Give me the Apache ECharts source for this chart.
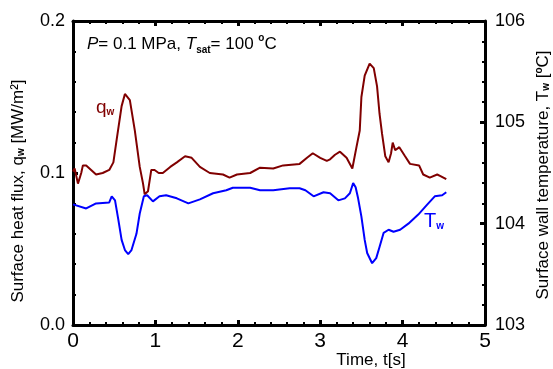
<!DOCTYPE html>
<html>
<head>
<meta charset="utf-8">
<script src="https://cdn.jsdelivr.net/npm/echarts@6/dist/echarts.min.js"></script>
<style>
  html, body { margin: 0; padding: 0; background: #fff; }
  #chart { width: 553px; height: 369px; }
</style>
</head>
<body>
<div id="chart"></div>
<script>
// surface heat flux q_w [MW/m2] vs time [s]
const qTime = [0.00, 0.02, 0.06, 0.10, 0.12, 0.16, 0.22, 0.28, 0.36, 0.44, 0.49, 0.53, 0.59, 0.63, 0.65, 0.69,
  0.75, 0.81, 0.85, 0.87, 0.91, 0.95, 0.99, 1.04, 1.09, 1.18, 1.26, 1.36, 1.44, 1.54, 1.66, 1.82, 1.90, 1.99,
  2.15, 2.27, 2.43, 2.55, 2.75, 2.84, 2.91, 3.00, 3.08, 3.12, 3.18, 3.24, 3.32, 3.39, 3.44, 3.48, 3.50, 3.54,
  3.60, 3.65, 3.69, 3.72, 3.75, 3.79, 3.83, 3.86, 3.88, 3.91, 3.96, 4.03, 4.09, 4.20, 4.25, 4.33, 4.42, 4.46, 4.53];
const qFlux = [0.101, 0.103, 0.093, 0.100, 0.105, 0.105, 0.102, 0.099, 0.100, 0.102, 0.107, 0.122, 0.144, 0.152, 0.153, 0.148,
  0.128, 0.104, 0.093, 0.086, 0.088, 0.102, 0.102, 0.100, 0.100, 0.104, 0.107, 0.111, 0.110, 0.104, 0.100, 0.099, 0.097, 0.099,
  0.100, 0.1035, 0.103, 0.105, 0.106, 0.110, 0.113, 0.110, 0.108, 0.109, 0.112, 0.114, 0.110, 0.103, 0.117, 0.128, 0.150, 0.164,
  0.172, 0.169, 0.157, 0.139, 0.126, 0.111, 0.107, 0.113, 0.120, 0.115, 0.117, 0.111, 0.106, 0.105, 0.099, 0.097, 0.099, 0.098, 0.096];

// surface wall temperature T_w [C] vs time [s]
const tTime = [0.00, 0.02, 0.16, 0.28, 0.44, 0.47, 0.51, 0.55, 0.59, 0.63, 0.67, 0.71, 0.77, 0.81, 0.86, 0.90, 0.97,
  1.05, 1.13, 1.26, 1.40, 1.54, 1.70, 1.86, 1.94, 2.15, 2.27, 2.43, 2.63, 2.75, 2.82, 2.92, 3.04, 3.12, 3.22,
  3.30, 3.36, 3.40, 3.43, 3.46, 3.50, 3.54, 3.57, 3.63, 3.68, 3.72, 3.77, 3.83, 3.89, 3.97, 4.07, 4.19, 4.29, 4.39, 4.48, 4.53];
const wallTemp = [104.19, 104.20, 104.15, 104.20, 104.21, 104.27, 104.23, 104.04, 103.84, 103.74, 103.70, 103.74, 103.90, 104.10, 104.27, 104.28, 104.22,
  104.27, 104.28, 104.25, 104.20, 104.24, 104.30, 104.33, 104.355, 104.355, 104.33, 104.33, 104.35, 104.35, 104.33, 104.27, 104.31, 104.30, 104.23,
  104.25, 104.30, 104.40, 104.36, 104.25, 104.07, 103.84, 103.71, 103.61, 103.66, 103.77, 103.91, 103.94, 103.92, 103.94, 104.00, 104.09, 104.18, 104.27, 104.28, 104.31];

const RED = '#800000';
const BLUE = '#0000ff';
const FONT = "'Liberation Sans', Arial, sans-serif";
const NARROW = "'Liberation Sans Narrow', 'Liberation Sans', Arial, sans-serif";

const chart = echarts.init(document.getElementById('chart'), null, { renderer: 'canvas' });

const axisBase = {
  axisLine: { show: true, onZero: false, lineStyle: { color: '#000', width: 3 } },
  axisTick: { show: true, inside: true, length: 5, lineStyle: { color: '#000', width: 3 } },
  minorTick: { show: true, splitNumber: 5, length: 3, lineStyle: { color: '#000', width: 2 } },
  splitLine: { show: false },
};

const subRich = {
  i: { fontStyle: 'italic', fontSize: 17, fontFamily: FONT, lineHeight: 22 },
  s: { fontSize: 10, fontWeight: 'bold', fontFamily: FONT, verticalAlign: 'bottom', lineHeight: 10 },
  sup: { fontSize: 10, fontWeight: 'bold', fontFamily: FONT, verticalAlign: 'top', lineHeight: 10 },
};

const option = {
  animation: false,
  backgroundColor: '#fff',
  grid: { left: 73, right: 68, top: 21, bottom: 44, containLabel: false },
  xAxis: [
    {
      ...axisBase,
      type: 'value', min: 0, max: 5, interval: 1, position: 'bottom',
      axisLabel: { margin: 6, fontSize: 21, fontFamily: NARROW, color: '#000' },
    },
    {
      ...axisBase,
      type: 'value', min: 0, max: 5, interval: 1, position: 'top',
      axisLabel: { show: false },
    },
  ],
  yAxis: [
    {
      ...axisBase,
      type: 'value', min: 0, max: 0.2, interval: 0.1, position: 'left',
      axisLabel: { margin: 8, fontSize: 18, fontFamily: NARROW, color: '#000', formatter: v => v.toFixed(1) },
    },
    {
      ...axisBase,
      type: 'value', min: 103, max: 106, interval: 1, position: 'right',
      axisLabel: { margin: 10, fontSize: 18, fontFamily: NARROW, color: '#000' },
    },
  ],
  series: [
    {
      type: 'line', xAxisIndex: 0, yAxisIndex: 0, symbol: 'none',
      lineStyle: { color: RED, width: 2 },
      data: qTime.map((t, i) => [t, qFlux[i]]),
    },
    {
      type: 'line', xAxisIndex: 0, yAxisIndex: 1, symbol: 'none',
      lineStyle: { color: BLUE, width: 2 },
      data: tTime.map((t, i) => [t, wallTemp[i]]),
    },
  ],
  graphic: [
    {
      type: 'text', x: 87, y: 44,
      style: {
        text: '{i|P}= 0.1 MPa, {i|T}{s|sat}= 100 {sup|o}C',
        font: '17px ' + FONT, fill: '#000', verticalAlign: 'middle',
        rich: subRich,
      },
    },
    {
      type: 'text', x: 96, y: 108,
      style: {
        text: 'q{s|w}', font: '19px ' + FONT, fill: RED, verticalAlign: 'middle',
        rich: { s: { ...subRich.s, fill: RED } },
      },
    },
    {
      type: 'text', x: 424, y: 221,
      style: {
        text: 'T{s|w}', font: '20px ' + FONT, fill: BLUE, verticalAlign: 'middle',
        rich: { s: { ...subRich.s, fill: BLUE } },
      },
    },
    {
      type: 'text', x: 371, y: 360,
      style: { text: 'Time, t[s]', font: '17px ' + FONT, fill: '#000', align: 'center', verticalAlign: 'middle' },
    },
    {
      type: 'text', x: 18, y: 191, rotation: Math.PI / 2,
      style: {
        text: 'Surface heat flux, q{s|w} [MW/m²]', font: '17px ' + FONT, fill: '#000',
        align: 'center', verticalAlign: 'middle', rich: subRich,
      },
    },
    {
      type: 'text', x: 543, y: 175, rotation: Math.PI / 2,
      style: {
        text: 'Surface wall temperature, T{s|w} [{sup|o}C]', font: '17px ' + FONT, fill: '#000',
        align: 'center', verticalAlign: 'middle', rich: subRich,
      },
    },
  ],
};

chart.setOption(option);
</script>
</body>
</html>
